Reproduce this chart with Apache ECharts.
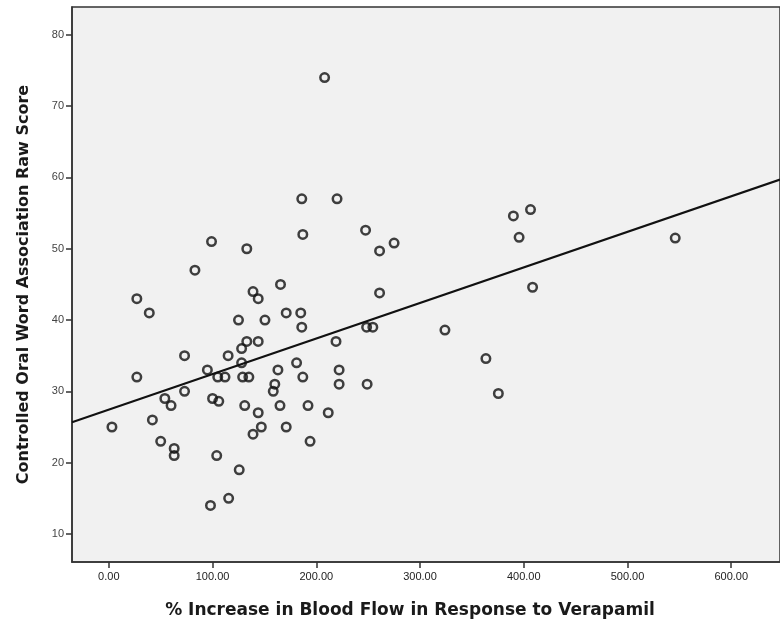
<!DOCTYPE html>
<html>
<head>
<meta charset="utf-8">
<script src="https://cdn.jsdelivr.net/npm/echarts@6/dist/echarts.min.js"></script>
<style>
  html, body { margin: 0; padding: 0; background: #fff; }
  #chart { width: 780px; height: 631px; }
</style>
</head>
<body>
<div id="chart"></div>
<script>
// % increase in blood flow (x) vs. COWA raw score (y)
var flowIncrease = [
  3, 27, 39, 27, 42, 50, 54, 60, 63, 63,
  73, 73, 83, 95, 98, 99, 100, 106, 105, 112,
  104, 115, 115.5, 125, 125.7, 128, 128, 129, 135, 131,
  133, 133, 139, 144, 144, 144, 139, 147, 150.5, 160,
  158.5, 163, 165, 165.5, 171, 171, 181, 185, 186, 187,
  186, 187, 192, 194, 208, 211.5, 219, 220, 222, 222,
  247.5, 248.5, 254.5, 249, 261, 261, 275, 324, 363.5, 375.5,
  390, 395.5, 406.5, 408.5, 546
]
var cowaScore = [
  25, 43, 41, 32, 26, 23, 29, 28, 22, 21,
  35, 30, 47, 33, 14, 51, 29, 28.6, 32, 32,
  21, 35, 15, 40, 19, 36, 34, 32, 32, 28,
  50, 37, 44, 43, 37, 27, 24, 25, 40, 31,
  30, 33, 28, 45, 41, 25, 34, 41, 39, 32,
  57, 52, 28, 23, 74, 27, 37, 57, 33, 31,
  52.6, 39, 39, 31, 49.7, 43.8, 50.8, 38.6, 34.6, 29.7,
  54.6, 51.6, 55.5, 44.6, 51.5
]

// fitted line, ends at the plot edges
var fitX = [-35.5, 647]
var fitY = [25.67, 59.7]

var xTicks = [0, 100, 200, 300, 400, 500, 600]
var yTicks = [10, 20, 30, 40, 50, 60, 70, 80]

var points = flowIncrease.map(function (x, i) { return [x, cowaScore[i]] })
var fitLine = fitX.map(function (x, i) { return [x, fitY[i]] })

var chart = echarts.init(document.getElementById('chart'))

chart.setOption({
  animation: false,
  textStyle: { fontFamily: 'Liberation Sans, Arial, sans-serif' },
  grid: {
    left: 72,
    top: 7,
    right: 0,
    bottom: 69,
    show: true,
    backgroundColor: '#f1f1f1',
    borderColor: '#333',
    borderWidth: 1.5
  },
  xAxis: {
    type: 'value',
    min: -35.5,
    max: 647,
    name: '% Increase in Blood Flow in Response to Verapamil',
    nameLocation: 'middle',
    nameGap: 40,
    nameTextStyle: {
      fontFamily: 'DejaVu Sans', fontSize: 17, fontWeight: 'bold', color: '#1a1a1a',
      padding: [0, 32, 0, 0]
    },
    axisLine: { show: true, onZero: false, lineStyle: { color: '#333', width: 1.5 } },
    axisTick: { show: true, length: 6, customValues: xTicks, lineStyle: { color: '#333', width: 1.5 } },
    axisLabel: {
      customValues: xTicks,
      margin: 9,
      fontSize: 11,
      color: '#222',
      formatter: function (v) { return v.toFixed(2) }
    },
    splitLine: { show: false }
  },
  yAxis: {
    type: 'value',
    min: 6.07,
    max: 83.9,
    name: 'Controlled Oral Word Association Raw Score',
    nameLocation: 'middle',
    nameGap: 40,
    nameTextStyle: { fontFamily: 'DejaVu Sans', fontSize: 16, fontWeight: 'bold', color: '#1a1a1a' },
    axisLine: { show: true, onZero: false, lineStyle: { color: '#333', width: 1.5 } },
    axisTick: { show: true, length: 6, customValues: yTicks, lineStyle: { color: '#333', width: 1.5 } },
    axisLabel: { customValues: yTicks, margin: 8, fontSize: 11, color: '#444' },
    splitLine: { show: false }
  },
  series: [
    {
      type: 'scatter',
      data: points,
      symbol: 'circle',
      symbolSize: 8.5,
      itemStyle: { color: 'rgba(0,0,0,0)', borderColor: '#111', borderWidth: 2.5 },
      z: 3
    },
    {
      type: 'line',
      data: fitLine,
      showSymbol: false,
      lineStyle: { color: '#111', width: 2 },
      z: 2
    }
  ]
})
</script>
</body>
</html>
